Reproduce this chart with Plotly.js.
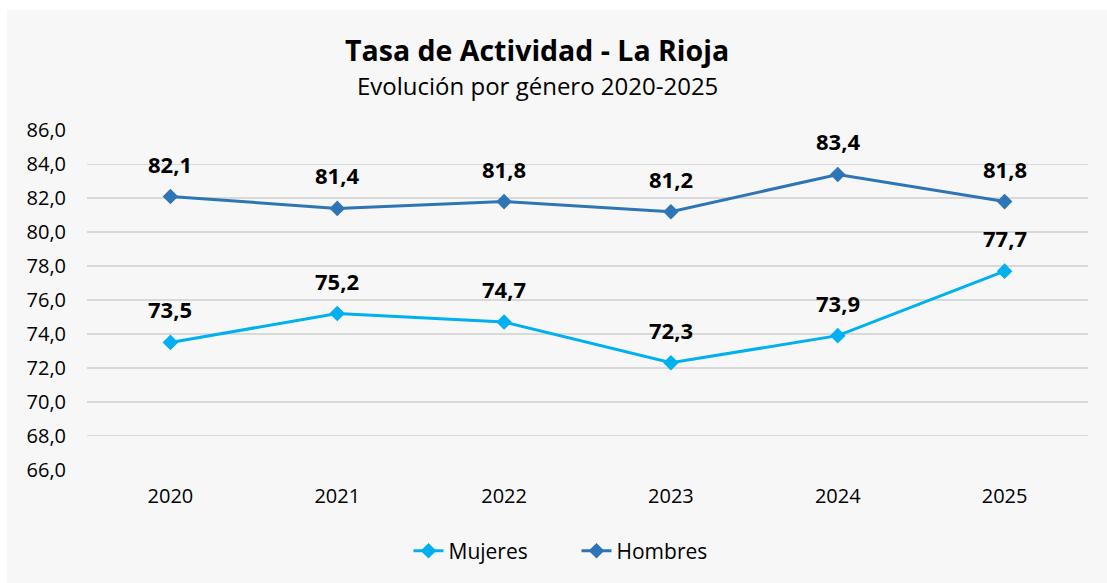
<!DOCTYPE html>
<html>
<head>
<meta charset="utf-8">
<script src="https://cdn.plot.ly/plotly-3.0.1.min.js"></script>
<style>
html,body{margin:0;padding:0;background:#ffffff;width:1107px;height:583px;overflow:hidden;}
#chart{position:absolute;left:7px;top:10px;width:1100px;height:573px;}
</style>
</head>
<body>
<div id="chart"></div>
<script>
const years = ['2020','2021','2022','2023','2024','2025'];
const mujeres = [73.5, 75.2, 74.7, 72.3, 73.9, 77.7];
const hombres = [82.1, 81.4, 81.8, 81.2, 83.4, 81.8];
const yTickVals = [66,68,70,72,74,76,78,80,82,84,86];
const yTickText = ['66,0','68,0','70,0','72,0','74,0','76,0','78,0','80,0','82,0','84,0','86,0'];
const titleText = 'Tasa de Actividad - La Rioja';
const subtitleText = 'Evolución por género 2020-2025';

const FONT = 'Open Sans, sans-serif';
const fmt = v => v.toFixed(1).replace('.', ',');

const traces = [
  {x: years, y: mujeres, name: 'Mujeres', type: 'scatter', mode: 'lines+markers',
   line: {color: '#00B0F0', width: 3}, marker: {symbol: 'diamond', size: 12, color: '#00B0F0'}},
  {x: years, y: hombres, name: 'Hombres', type: 'scatter', mode: 'lines+markers',
   line: {color: '#2E75B6', width: 3}, marker: {symbol: 'diamond', size: 12, color: '#2E75B6'}}
];

const annotations = [];
[mujeres, hombres].forEach(series => {
  series.forEach((v, i) => {
    annotations.push({x: i, y: v, xref: 'x', yref: 'y', text: '<b>' + fmt(v) + '</b>',
      showarrow: false, yshift: 33, xanchor: 'center', yanchor: 'middle',
      font: {family: FONT, size: 22, color: '#000'}});
  });
});
annotations.push({xref: 'paper', yref: 'paper', x: 0.4496, y: 1, yshift: 80, xanchor: 'center', yanchor: 'middle',
  text: '<b>' + titleText + '</b>', showarrow: false, font: {family: FONT, size: 28.5, color: '#000'}});
annotations.push({xref: 'paper', yref: 'paper', x: 0.4496, y: 1, yshift: 45, xanchor: 'center', yanchor: 'middle',
  text: subtitleText, showarrow: false, font: {family: FONT, size: 24, color: '#000'}});

const layout = {
  width: 1100, height: 573,
  margin: {l: 80, r: 19, t: 120, b: 112},
  paper_bgcolor: '#f7f7f7', plot_bgcolor: '#f7f7f7',
  showlegend: true,
  legend: {orientation: 'h', x: 0.489, xanchor: 'center', y: -0.235, yanchor: 'middle',
    font: {family: FONT, size: 21, color: '#000'}, entrywidth: 123, entrywidthmode: 'pixels'},
  xaxis: {type: 'category', range: [-0.5, 5.5], showgrid: false, zeroline: false, showline: false,
    ticks: '', tickfont: {family: FONT, size: 20, color: '#000'}, ticklabelstandoff: 12, fixedrange: true},
  yaxis: {range: [65.98, 86.02], tickvals: yTickVals, ticktext: yTickText, showgrid: true,
    gridcolor: '#d9d9d9', gridwidth: 1.5, zeroline: false, showline: false, ticks: '',
    tickfont: {family: FONT, size: 20, color: '#000'}, ticklabelstandoff: 20, fixedrange: true},
  annotations: annotations,
  hovermode: false
};

Plotly.newPlot('chart', traces, layout, {displayModeBar: false, staticPlot: true});
</script>
</body>
</html>
